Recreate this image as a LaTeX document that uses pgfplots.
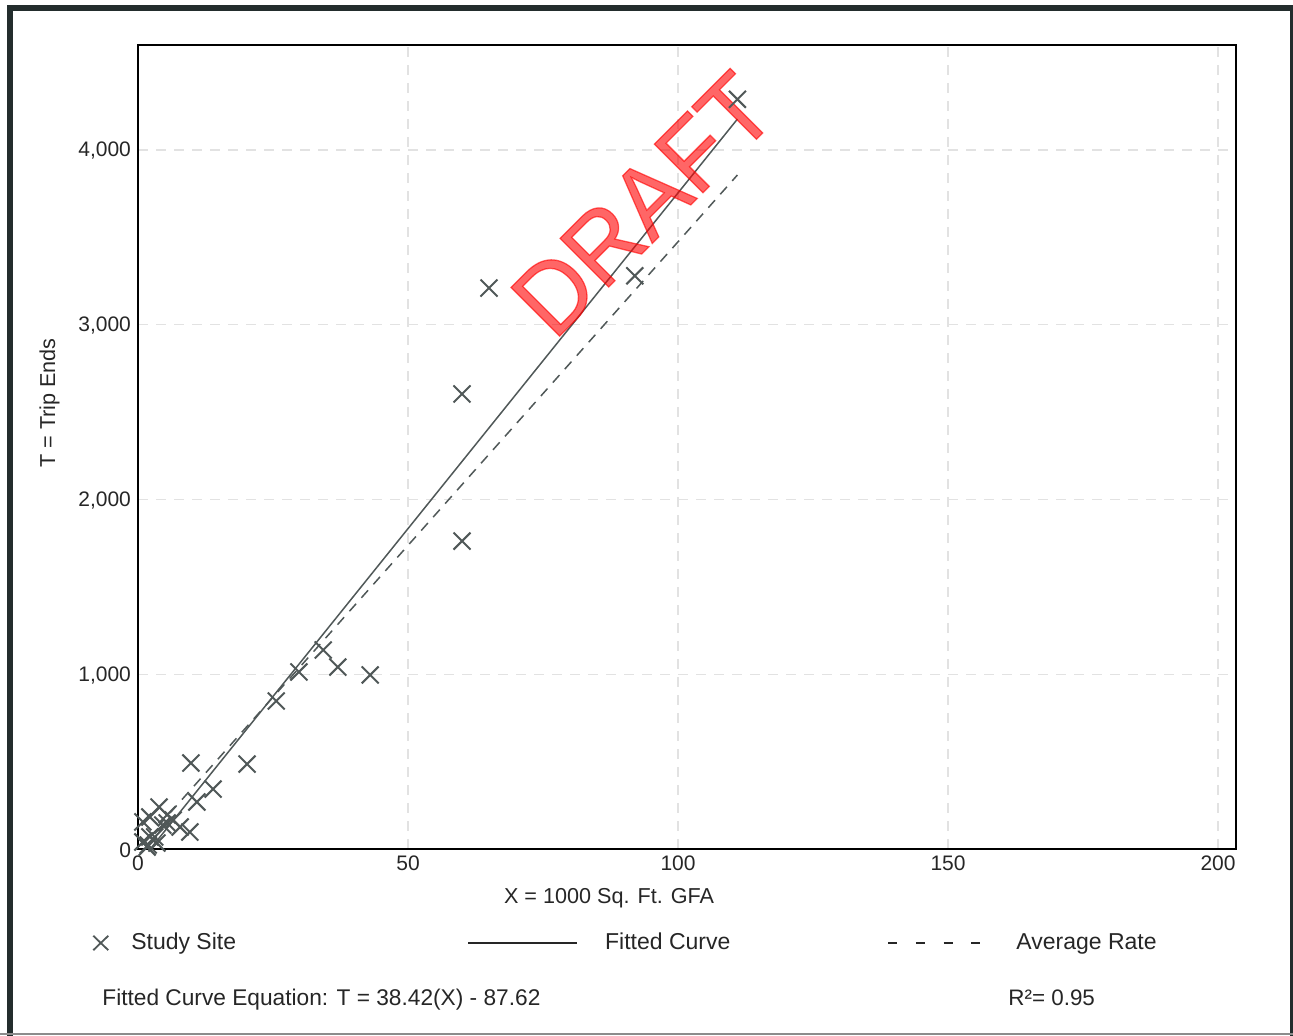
\documentclass[border=0pt]{standalone}
\usepackage{pgfplots}
\usepackage{pgfplotstable}
\pgfplotsset{compat=1.18}
\usepackage{fontspec}
\setmainfont{Liberation Sans}
\newfontfamily\draftfont[FakeBold=1.3]{Liberation Sans}
\definecolor{framec}{RGB}{35,45,45}
\definecolor{markc}{RGB}{80,88,88}
\definecolor{gridc}{RGB}{226,226,226}
\definecolor{draftc}{RGB}{255,0,0}

\pgfplotstableread{
x y
111 4290
92 3280
65 3210
60 2604
60 1762
43 996
37 1041
34.3 1139
29.8 1013
25.6 847
20.2 486
9.8 492
13.9 343
10.9 269
3.9 240
2.2 183
0.9 155
5.4 149
7.8 126
9.6 97
2.2 69
0.9 40
3.5 34
1.7 11
6.5 166
4.6 137
3.1 69
1.9 23
5.4 195
}\sites

\pgfplotstableread{
x y
2.28 0
111 4177.0
}\fitted

\pgfplotstableread{
x y
1.5 52.1
111 3857
}\avgrate

\begin{document}
\begin{tikzpicture}
\begin{scope}[shift={(-69pt,424.5pt)}, x=0.5pt, y=-0.5pt]
\useasboundingbox (0,0) rectangle (1293,1036);
\draw[framec, line width=3pt] (10,1036) -- (10,8) -- (1293,8);
\draw[framec, line width=1.6pt] (1291.5,8) -- (1291.5,1036);
\draw[black!45, line width=1pt] (0,1034.5) -- (1293,1034.5);
\node[anchor=base west, inner sep=0pt, font=\fontsize{11.35}{13}\selectfont, text=black!85] at (102,1006) {Fitted Curve Equation: T = 38.42(X) - 87.62};
\node[anchor=base west, inner sep=0pt, font=\fontsize{11.2}{13}\selectfont, text=black!85] at (1008,1006) {R²= 0.95};
\end{scope}
\begin{axis}[
  scale only axis, width=549pt, height=402pt,
  xmin=0, xmax=203.33, ymin=0, ymax=4601,
  xtick={0,50,100,150,200}, ytick={0,1000,2000,3000,4000},
  grid=major,
  major grid style={gridc, dash pattern=on 5pt off 4pt, line width=0.7pt},
  major tick length=0pt,
  axis line style={line width=1pt, black},
  ticklabel style={font=\fontsize{10.5}{12}\selectfont, text=black!85},
  yticklabel style={yshift=-0.5pt},
  /pgf/number format/assume math mode=true,
  /pgf/number format/1000 sep={,},
  scaled ticks=false,
  xlabel={X = 1000 Sq. Ft. GFA},
  ylabel={T = Trip Ends},
  label style={font=\fontsize{10.8}{13}\selectfont, text=black!85},
  xlabel style={at={(rel axis cs:0.429,-0.0615)}, anchor=center},
  ylabel style={at={(rel axis cs:-0.0805,0.5547)}, anchor=center},
  legend style={at={(rel axis cs:-0.0419,-0.1169)}, anchor=west, draw=none, fill=none,
    inner sep=0pt, nodes={inner sep=0pt}, font=\fontsize{11.5}{14}\selectfont, text=black!85,
    legend columns=3,
    /tikz/every even column/.append style={column sep=0pt},
    /tikz/every odd column/.append style={column sep=0pt}},
  legend cell align=left,
]
\addplot[only marks, mark=x, mark size=6pt, markc, mark options={line width=1pt},
  legend image code/.code={
    \draw[markc, line width=0.9pt] (0pt,-3.6pt)--(7.5pt,3.6pt) (0pt,3.6pt)--(7.5pt,-3.6pt);
    \path[draw=none] (0pt,0pt) -- (19pt,0pt);}]
  table[x=x, y=y] {\sites};
\addlegendentry{Study Site}
\addplot[markc, line width=0.75pt, no marks,
  legend image code/.code={
    \path[draw=none] (-116pt,0pt) -- (68.5pt,0pt);
    \draw[black!85, line width=0.8pt] (0pt,0pt) -- (54.5pt,0pt);}]
  table[x=x, y=y] {\fitted};
\addlegendentry{Fitted Curve}
\addplot[markc, line width=0.75pt, no marks, dash pattern=on 5pt off 4pt,
  legend image code/.code={
    \path[draw=none] (-79pt,0pt) -- (64pt,0pt);
    \draw[black!85, line width=0.8pt, dash pattern=on 4.5pt off 9.3pt] (0pt,0pt) -- (46pt,0pt);}]
  table[x=x, y=y] {\avgrate};
\addlegendentry{Average Rate}
\node[rotate=45, text=draftc, text opacity=0.6, inner sep=0pt, font=\draftfont\fontsize{50}{50}\selectfont] at (axis cs:93.5,3690) {\scalebox{0.96}[1]{DRAFT}};
\end{axis}
\end{tikzpicture}
\end{document}
